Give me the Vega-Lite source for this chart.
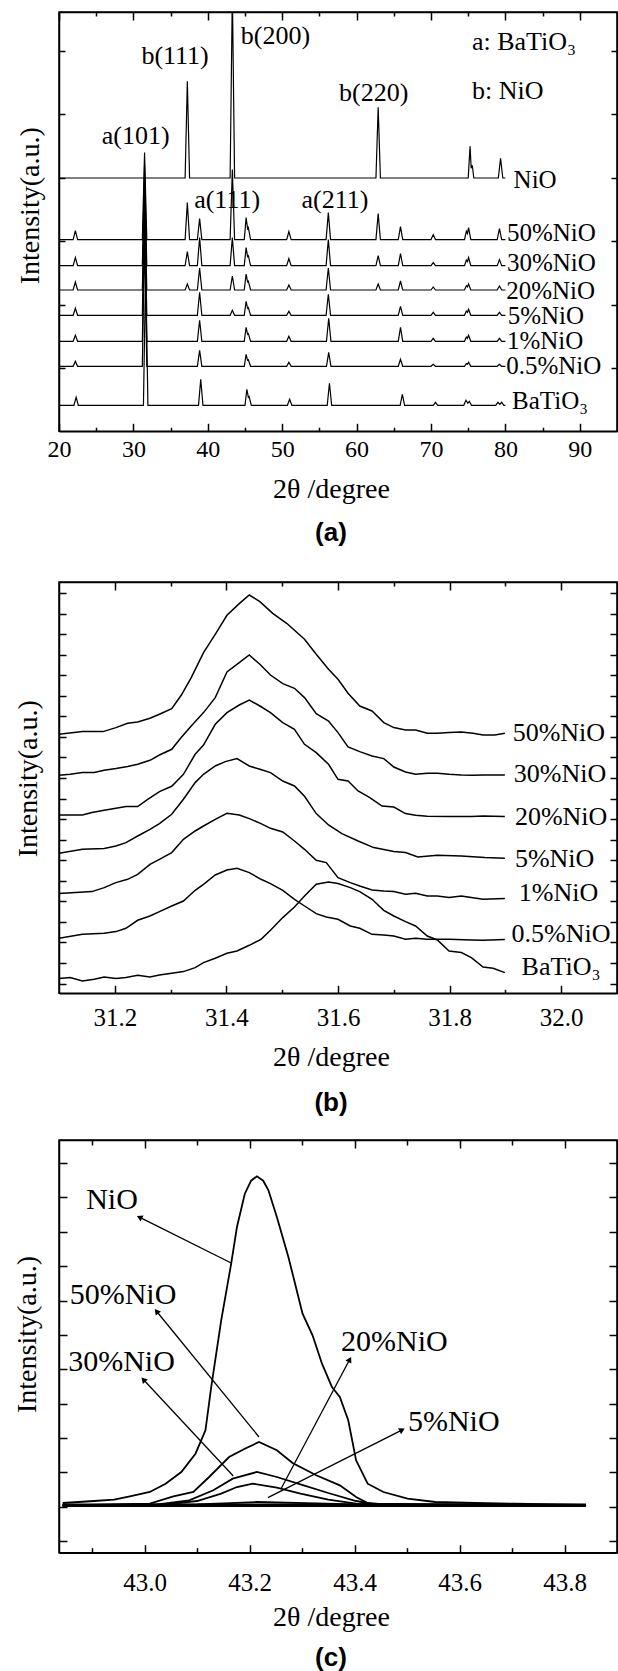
{
"$schema": "https://vega.github.io/schema/vega-lite/v6.json",
"padding": {"left": 12, "top": 10, "right": 0, "bottom": 0},
"background": "white",
"config": {
  "font": "Liberation Serif, Times New Roman, serif",
  "view": {"stroke": "black", "strokeWidth": 1.5},
  "axis": {"domainColor": "black", "domainWidth": 1.5, "tickColor": "black", "tickWidth": 1.5, "labelColor": "black", "titleColor": "black", "grid": false, "labelFont": "Liberation Serif, Times New Roman, serif", "titleFont": "Liberation Serif, Times New Roman, serif", "titleFontWeight": "normal", "labelFlush": false, "labelOverlap": false, "labelBound": false},
  "title": {"font": "Liberation Sans, Arial, sans-serif", "fontWeight": "bold", "fontSize": 26, "color": "black"}
},
"datasets": {
"a": [
{"s":"NiO","x":20,"y":253.3},{"s":"NiO","x":36.95,"y":253.3},{"s":"NiO","x":37.25,"y":350},{"s":"NiO","x":37.55,"y":253.3},{"s":"NiO","x":43.0,"y":253.3},{"s":"NiO","x":43.3,"y":440},{"s":"NiO","x":43.6,"y":253.3},{"s":"NiO","x":62.6,"y":253.3},{"s":"NiO","x":62.9,"y":324},{"s":"NiO","x":63.2,"y":253.3},{"s":"NiO","x":75.0,"y":253.3},{"s":"NiO","x":75.25,"y":285},{"s":"NiO","x":75.4,"y":263},{"s":"NiO","x":75.55,"y":266},{"s":"NiO","x":75.75,"y":253.3},{"s":"NiO","x":79.05,"y":253.3},{"s":"NiO","x":79.35,"y":273},{"s":"NiO","x":79.65,"y":253.3},{"s":"NiO","x":80,"y":253.3},
{"s":"50","x":20,"y":191.7},{"s":"50","x":21.9,"y":191.7},{"s":"50","x":22.2,"y":200.7},{"s":"50","x":22.5,"y":191.7},{"s":"50","x":31.2,"y":191.7},{"s":"50","x":31.5,"y":278.7},{"s":"50","x":31.8,"y":191.7},{"s":"50","x":36.95,"y":191.7},{"s":"50","x":37.25,"y":228.7},{"s":"50","x":37.55,"y":191.7},{"s":"50","x":38.6,"y":191.7},{"s":"50","x":38.9,"y":212.7},{"s":"50","x":39.2,"y":191.7},{"s":"50","x":43.0,"y":191.7},{"s":"50","x":43.3,"y":261.7},{"s":"50","x":43.6,"y":191.7},{"s":"50","x":44.9,"y":191.7},{"s":"50","x":45.15,"y":213.7},{"s":"50","x":45.35,"y":202.7},{"s":"50","x":45.45,"y":203.8},{"s":"50","x":45.75,"y":191.7},{"s":"50","x":50.6,"y":191.7},{"s":"50","x":50.9,"y":199.7},{"s":"50","x":51.2,"y":191.7},{"s":"50","x":55.9,"y":191.7},{"s":"50","x":56.2,"y":218.7},{"s":"50","x":56.5,"y":191.7},{"s":"50","x":62.6,"y":191.7},{"s":"50","x":62.9,"y":217.7},{"s":"50","x":63.2,"y":191.7},{"s":"50","x":65.6,"y":191.7},{"s":"50","x":65.9,"y":204.7},{"s":"50","x":66.2,"y":191.7},{"s":"50","x":70.0,"y":191.7},{"s":"50","x":70.3,"y":196.7},{"s":"50","x":70.6,"y":191.7},{"s":"50","x":74.5,"y":191.7},{"s":"50","x":74.75,"y":200},{"s":"50","x":74.9,"y":197.7},{"s":"50","x":75.05,"y":203.7},{"s":"50","x":75.35,"y":191.7},{"s":"50","x":78.9,"y":191.7},{"s":"50","x":79.2,"y":202.7},{"s":"50","x":79.5,"y":191.7},{"s":"50","x":80,"y":191.7},
{"s":"30","x":20,"y":165.7},{"s":"30","x":21.9,"y":165.7},{"s":"30","x":22.2,"y":173.7},{"s":"30","x":22.5,"y":165.7},{"s":"30","x":31.2,"y":165.7},{"s":"30","x":31.5,"y":265.7},{"s":"30","x":31.8,"y":165.7},{"s":"30","x":36.95,"y":165.7},{"s":"30","x":37.25,"y":179.7},{"s":"30","x":37.55,"y":165.7},{"s":"30","x":38.6,"y":165.7},{"s":"30","x":38.9,"y":193.7},{"s":"30","x":39.2,"y":165.7},{"s":"30","x":43.0,"y":165.7},{"s":"30","x":43.3,"y":193.7},{"s":"30","x":43.6,"y":165.7},{"s":"30","x":44.9,"y":165.7},{"s":"30","x":45.15,"y":183.7},{"s":"30","x":45.35,"y":174.7},{"s":"30","x":45.45,"y":175.6},{"s":"30","x":45.75,"y":165.7},{"s":"30","x":50.6,"y":165.7},{"s":"30","x":50.9,"y":172.7},{"s":"30","x":51.2,"y":165.7},{"s":"30","x":55.9,"y":165.7},{"s":"30","x":56.2,"y":191.7},{"s":"30","x":56.5,"y":165.7},{"s":"30","x":62.6,"y":165.7},{"s":"30","x":62.9,"y":175.7},{"s":"30","x":63.2,"y":165.7},{"s":"30","x":65.6,"y":165.7},{"s":"30","x":65.9,"y":177.7},{"s":"30","x":66.2,"y":165.7},{"s":"30","x":70.0,"y":165.7},{"s":"30","x":70.3,"y":168.7},{"s":"30","x":70.6,"y":165.7},{"s":"30","x":74.5,"y":165.7},{"s":"30","x":74.75,"y":171.3},{"s":"30","x":74.9,"y":169.7},{"s":"30","x":75.05,"y":173.7},{"s":"30","x":75.35,"y":165.7},{"s":"30","x":78.9,"y":165.7},{"s":"30","x":79.2,"y":171.7},{"s":"30","x":79.5,"y":165.7},{"s":"30","x":80,"y":165.7},
{"s":"20","x":20,"y":141.3},{"s":"20","x":21.9,"y":141.3},{"s":"20","x":22.2,"y":149.3},{"s":"20","x":22.5,"y":141.3},{"s":"20","x":31.2,"y":141.3},{"s":"20","x":31.5,"y":251.3},{"s":"20","x":31.8,"y":141.3},{"s":"20","x":36.95,"y":141.3},{"s":"20","x":37.25,"y":147.3},{"s":"20","x":37.55,"y":141.3},{"s":"20","x":38.6,"y":141.3},{"s":"20","x":38.9,"y":163.3},{"s":"20","x":39.2,"y":141.3},{"s":"20","x":43.0,"y":141.3},{"s":"20","x":43.3,"y":155.3},{"s":"20","x":43.6,"y":141.3},{"s":"20","x":44.9,"y":141.3},{"s":"20","x":45.15,"y":157.3},{"s":"20","x":45.35,"y":149.3},{"s":"20","x":45.45,"y":150.1},{"s":"20","x":45.75,"y":141.3},{"s":"20","x":50.6,"y":141.3},{"s":"20","x":50.9,"y":146.3},{"s":"20","x":51.2,"y":141.3},{"s":"20","x":55.9,"y":141.3},{"s":"20","x":56.2,"y":163.3},{"s":"20","x":56.5,"y":141.3},{"s":"20","x":62.6,"y":141.3},{"s":"20","x":62.9,"y":147.3},{"s":"20","x":63.2,"y":141.3},{"s":"20","x":65.6,"y":141.3},{"s":"20","x":65.9,"y":150.3},{"s":"20","x":66.2,"y":141.3},{"s":"20","x":70.0,"y":141.3},{"s":"20","x":70.3,"y":144.3},{"s":"20","x":70.6,"y":141.3},{"s":"20","x":74.5,"y":141.3},{"s":"20","x":74.75,"y":145.5},{"s":"20","x":74.9,"y":144.3},{"s":"20","x":75.05,"y":147.3},{"s":"20","x":75.35,"y":141.3},{"s":"20","x":78.9,"y":141.3},{"s":"20","x":79.2,"y":145.3},{"s":"20","x":79.5,"y":141.3},{"s":"20","x":80,"y":141.3},
{"s":"5","x":20,"y":116},{"s":"5","x":21.9,"y":116},{"s":"5","x":22.2,"y":123},{"s":"5","x":22.5,"y":116},{"s":"5","x":31.2,"y":116},{"s":"5","x":31.5,"y":236},{"s":"5","x":31.8,"y":116},{"s":"5","x":38.6,"y":116},{"s":"5","x":38.9,"y":139},{"s":"5","x":39.2,"y":116},{"s":"5","x":43.0,"y":116},{"s":"5","x":43.3,"y":121},{"s":"5","x":43.6,"y":116},{"s":"5","x":44.9,"y":116},{"s":"5","x":45.15,"y":130},{"s":"5","x":45.35,"y":123},{"s":"5","x":45.45,"y":123.7},{"s":"5","x":45.75,"y":116},{"s":"5","x":50.6,"y":116},{"s":"5","x":50.9,"y":120},{"s":"5","x":51.2,"y":116},{"s":"5","x":55.9,"y":116},{"s":"5","x":56.2,"y":137},{"s":"5","x":56.5,"y":116},{"s":"5","x":65.6,"y":116},{"s":"5","x":65.9,"y":125},{"s":"5","x":66.2,"y":116},{"s":"5","x":70.0,"y":116},{"s":"5","x":70.3,"y":119},{"s":"5","x":70.6,"y":116},{"s":"5","x":74.5,"y":116},{"s":"5","x":74.75,"y":120.2},{"s":"5","x":74.9,"y":119},{"s":"5","x":75.05,"y":122},{"s":"5","x":75.35,"y":116},{"s":"5","x":78.9,"y":116},{"s":"5","x":79.2,"y":119},{"s":"5","x":79.5,"y":116},{"s":"5","x":80,"y":116},
{"s":"1","x":20,"y":90},{"s":"1","x":21.9,"y":90},{"s":"1","x":22.2,"y":96},{"s":"1","x":22.5,"y":90},{"s":"1","x":31.2,"y":90},{"s":"1","x":31.5,"y":210},{"s":"1","x":31.8,"y":90},{"s":"1","x":38.6,"y":90},{"s":"1","x":38.9,"y":111},{"s":"1","x":39.2,"y":90},{"s":"1","x":44.9,"y":90},{"s":"1","x":45.15,"y":104},{"s":"1","x":45.35,"y":97},{"s":"1","x":45.45,"y":97.7},{"s":"1","x":45.75,"y":90},{"s":"1","x":50.6,"y":90},{"s":"1","x":50.9,"y":95},{"s":"1","x":51.2,"y":90},{"s":"1","x":55.95,"y":90},{"s":"1","x":56.25,"y":113},{"s":"1","x":56.55,"y":90},{"s":"1","x":65.6,"y":90},{"s":"1","x":65.9,"y":104},{"s":"1","x":66.2,"y":90},{"s":"1","x":70.0,"y":90},{"s":"1","x":70.3,"y":93},{"s":"1","x":70.6,"y":90},{"s":"1","x":74.5,"y":90},{"s":"1","x":74.75,"y":94.2},{"s":"1","x":74.9,"y":93},{"s":"1","x":75.05,"y":96},{"s":"1","x":75.35,"y":90},{"s":"1","x":78.9,"y":90},{"s":"1","x":79.2,"y":93},{"s":"1","x":79.5,"y":90},{"s":"1","x":80,"y":90},
{"s":"0.5","x":20,"y":65},{"s":"0.5","x":21.9,"y":65},{"s":"0.5","x":22.2,"y":70},{"s":"0.5","x":22.5,"y":65},{"s":"0.5","x":31.2,"y":65},{"s":"0.5","x":31.5,"y":195},{"s":"0.5","x":31.8,"y":65},{"s":"0.5","x":38.6,"y":65},{"s":"0.5","x":38.9,"y":81},{"s":"0.5","x":39.2,"y":65},{"s":"0.5","x":44.9,"y":65},{"s":"0.5","x":45.15,"y":77},{"s":"0.5","x":45.35,"y":71},{"s":"0.5","x":45.45,"y":71.6},{"s":"0.5","x":45.75,"y":65},{"s":"0.5","x":50.6,"y":65},{"s":"0.5","x":50.9,"y":69},{"s":"0.5","x":51.2,"y":65},{"s":"0.5","x":55.95,"y":65},{"s":"0.5","x":56.25,"y":79},{"s":"0.5","x":56.55,"y":65},{"s":"0.5","x":65.6,"y":65},{"s":"0.5","x":65.9,"y":72},{"s":"0.5","x":66.2,"y":65},{"s":"0.5","x":70.0,"y":65},{"s":"0.5","x":70.3,"y":67},{"s":"0.5","x":70.6,"y":65},{"s":"0.5","x":74.5,"y":65},{"s":"0.5","x":74.75,"y":67.8},{"s":"0.5","x":74.9,"y":67},{"s":"0.5","x":75.05,"y":69},{"s":"0.5","x":75.35,"y":65},{"s":"0.5","x":78.9,"y":65},{"s":"0.5","x":79.2,"y":67},{"s":"0.5","x":79.5,"y":65},{"s":"0.5","x":80,"y":65},
{"s":"B","x":20,"y":26},{"s":"B","x":22.0,"y":26},{"s":"B","x":22.3,"y":34},{"s":"B","x":22.6,"y":26},{"s":"B","x":31.35,"y":26},{"s":"B","x":31.65,"y":166},{"s":"B","x":31.95,"y":26},{"s":"B","x":38.75,"y":26},{"s":"B","x":39.05,"y":52},{"s":"B","x":39.35,"y":26},{"s":"B","x":45.0,"y":26},{"s":"B","x":45.25,"y":42},{"s":"B","x":45.45,"y":34},{"s":"B","x":45.55,"y":34.8},{"s":"B","x":45.85,"y":26},{"s":"B","x":50.7,"y":26},{"s":"B","x":51.0,"y":32},{"s":"B","x":51.3,"y":26},{"s":"B","x":56.05,"y":26},{"s":"B","x":56.35,"y":48},{"s":"B","x":56.65,"y":26},{"s":"B","x":65.85,"y":26},{"s":"B","x":66.15,"y":37},{"s":"B","x":66.45,"y":26},{"s":"B","x":70.3,"y":26},{"s":"B","x":70.6,"y":29},{"s":"B","x":70.9,"y":26},{"s":"B","x":74.4,"y":26},{"s":"B","x":74.7,"y":31},{"s":"B","x":74.95,"y":28},{"s":"B","x":75.15,"y":30},{"s":"B","x":75.45,"y":26},{"s":"B","x":78.7,"y":26},{"s":"B","x":79.0,"y":29},{"s":"B","x":79.25,"y":27},{"s":"B","x":79.5,"y":29},{"s":"B","x":79.8,"y":26},{"s":"B","x":80,"y":26}
],
"aser": [
{"t":"NiO","x":81.1,"y":251},{"t":"50%NiO","x":80.2,"y":198},{"t":"30%NiO","x":80.2,"y":168.3},{"t":"20%NiO","x":80.1,"y":140.5},{"t":"5%NiO","x":80.3,"y":115.5},{"t":"1%NiO","x":80.2,"y":90.5},{"t":"0.5%NiO","x":80.1,"y":65.5},{"t":"BaTiO₃","x":80.9,"y":30}
],
"aleg": [
{"t":"a: BaTiO₃","x":75.5,"y":389},{"t":"b: NiO","x":75.5,"y":340}
],
"apk": [
{"t":"a(101)","x":30.3,"y":295},{"t":"b(111)","x":35.6,"y":375},{"t":"b(200)","x":49.1,"y":395},{"t":"b(220)","x":62.3,"y":338.3},{"t":"a(111)","x":42.6,"y":231.7},{"t":"a(211)","x":57.1,"y":231.7}
],
"b1": [
{"s":"50","x":31.100,"y":259},{"s":"50","x":31.142,"y":261.7},{"s":"50","x":31.179,"y":261.7},{"s":"50","x":31.202,"y":265.7},{"s":"50","x":31.223,"y":270},{"s":"50","x":31.241,"y":271.3},{"s":"50","x":31.263,"y":275},{"s":"50","x":31.280,"y":279},{"s":"50","x":31.302,"y":284.7},{"s":"50","x":31.319,"y":298},{"s":"50","x":31.337,"y":315.7},{"s":"50","x":31.359,"y":340.7},{"s":"50","x":31.380,"y":359},{"s":"50","x":31.401,"y":378},{"s":"50","x":31.423,"y":389.7},{"s":"50","x":31.441,"y":398.3},{"s":"50","x":31.460,"y":391.7},{"s":"50","x":31.483,"y":380},{"s":"50","x":31.508,"y":370},{"s":"50","x":31.540,"y":354},{"s":"50","x":31.561,"y":339},{"s":"50","x":31.583,"y":324},{"s":"50","x":31.600,"y":314},{"s":"50","x":31.618,"y":300},{"s":"50","x":31.639,"y":287.3},{"s":"50","x":31.661,"y":282.3},{"s":"50","x":31.682,"y":270.7},{"s":"50","x":31.700,"y":265.7},{"s":"50","x":31.721,"y":263.3},{"s":"50","x":31.739,"y":263.3},{"s":"50","x":31.760,"y":260},{"s":"50","x":31.778,"y":260},{"s":"50","x":31.799,"y":260.7},{"s":"50","x":31.821,"y":261.3},{"s":"50","x":31.842,"y":260},{"s":"50","x":31.860,"y":258.3},{"s":"50","x":31.881,"y":258.3},{"s":"50","x":31.899,"y":260},
{"s":"30","x":31.100,"y":218},{"s":"30","x":31.120,"y":219},{"s":"30","x":31.142,"y":220.7},{"s":"30","x":31.163,"y":220.7},{"s":"30","x":31.181,"y":223},{"s":"30","x":31.202,"y":224.7},{"s":"30","x":31.223,"y":226.7},{"s":"30","x":31.241,"y":229},{"s":"30","x":31.263,"y":233},{"s":"30","x":31.280,"y":238.3},{"s":"30","x":31.302,"y":244},{"s":"30","x":31.319,"y":255.7},{"s":"30","x":31.337,"y":267.3},{"s":"30","x":31.359,"y":280.7},{"s":"30","x":31.380,"y":295.7},{"s":"30","x":31.401,"y":321.3},{"s":"30","x":31.423,"y":330.7},{"s":"30","x":31.441,"y":338.3},{"s":"30","x":31.460,"y":329},{"s":"30","x":31.479,"y":318.3},{"s":"30","x":31.501,"y":309.7},{"s":"30","x":31.522,"y":305},{"s":"30","x":31.540,"y":295.7},{"s":"30","x":31.561,"y":279.7},{"s":"30","x":31.583,"y":272.3},{"s":"30","x":31.600,"y":260.7},{"s":"30","x":31.618,"y":246.3},{"s":"30","x":31.639,"y":241.7},{"s":"30","x":31.661,"y":237.3},{"s":"30","x":31.682,"y":234.7},{"s":"30","x":31.700,"y":226.3},{"s":"30","x":31.721,"y":221.3},{"s":"30","x":31.739,"y":219},{"s":"30","x":31.760,"y":220},{"s":"30","x":31.778,"y":220},{"s":"30","x":31.799,"y":219},{"s":"30","x":31.821,"y":218.3},{"s":"30","x":31.842,"y":218},{"s":"30","x":31.860,"y":218.3},{"s":"30","x":31.899,"y":218.3},
{"s":"20","x":31.100,"y":178.3},{"s":"20","x":31.142,"y":178.3},{"s":"20","x":31.159,"y":180.7},{"s":"20","x":31.181,"y":183},{"s":"20","x":31.202,"y":185},{"s":"20","x":31.220,"y":186.7},{"s":"20","x":31.241,"y":186.7},{"s":"20","x":31.259,"y":194},{"s":"20","x":31.280,"y":201.7},{"s":"20","x":31.302,"y":207},{"s":"20","x":31.323,"y":219},{"s":"20","x":31.344,"y":239},{"s":"20","x":31.359,"y":248.3},{"s":"20","x":31.380,"y":269},{"s":"20","x":31.401,"y":280.7},{"s":"20","x":31.423,"y":288.3},{"s":"20","x":31.441,"y":293.3},{"s":"20","x":31.460,"y":287.3},{"s":"20","x":31.479,"y":280.7},{"s":"20","x":31.501,"y":270.7},{"s":"20","x":31.522,"y":264},{"s":"20","x":31.540,"y":249},{"s":"20","x":31.561,"y":240.7},{"s":"20","x":31.583,"y":229},{"s":"20","x":31.600,"y":214},{"s":"20","x":31.618,"y":212.3},{"s":"20","x":31.636,"y":202.3},{"s":"20","x":31.657,"y":195.7},{"s":"20","x":31.679,"y":187.3},{"s":"20","x":31.700,"y":186.3},{"s":"20","x":31.721,"y":179.7},{"s":"20","x":31.739,"y":178},{"s":"20","x":31.760,"y":177},{"s":"20","x":31.799,"y":176.7},{"s":"20","x":31.839,"y":176.7},{"s":"20","x":31.860,"y":177.3},{"s":"20","x":31.899,"y":176.7},
{"s":"5","x":31.100,"y":140},{"s":"5","x":31.142,"y":144},{"s":"5","x":31.181,"y":144.7},{"s":"5","x":31.202,"y":147.3},{"s":"5","x":31.220,"y":150.7},{"s":"5","x":31.241,"y":157.3},{"s":"5","x":31.263,"y":164},{"s":"5","x":31.280,"y":169.7},{"s":"5","x":31.302,"y":179},{"s":"5","x":31.323,"y":194},{"s":"5","x":31.344,"y":210.7},{"s":"5","x":31.359,"y":219},{"s":"5","x":31.380,"y":227.3},{"s":"5","x":31.398,"y":231.7},{"s":"5","x":31.419,"y":234.7},{"s":"5","x":31.441,"y":227.3},{"s":"5","x":31.460,"y":224},{"s":"5","x":31.479,"y":220.7},{"s":"5","x":31.501,"y":212.3},{"s":"5","x":31.522,"y":207.3},{"s":"5","x":31.540,"y":197},{"s":"5","x":31.561,"y":179.7},{"s":"5","x":31.583,"y":168.3},{"s":"5","x":31.607,"y":159.7},{"s":"5","x":31.636,"y":152.3},{"s":"5","x":31.664,"y":145.7},{"s":"5","x":31.700,"y":141.7},{"s":"5","x":31.721,"y":140.7},{"s":"5","x":31.743,"y":136.3},{"s":"5","x":31.778,"y":138},{"s":"5","x":31.821,"y":137.3},{"s":"5","x":31.863,"y":135.7},{"s":"5","x":31.899,"y":135}
],
"b2": [
{"s":"1","x":31.100,"y":99.7},{"s":"1","x":31.159,"y":101.7},{"s":"1","x":31.181,"y":105.7},{"s":"1","x":31.202,"y":110.7},{"s":"1","x":31.223,"y":114},{"s":"1","x":31.241,"y":119},{"s":"1","x":31.263,"y":129},{"s":"1","x":31.280,"y":134},{"s":"1","x":31.302,"y":140.7},{"s":"1","x":31.323,"y":154},{"s":"1","x":31.344,"y":162.3},{"s":"1","x":31.359,"y":167.3},{"s":"1","x":31.380,"y":174},{"s":"1","x":31.401,"y":180},{"s":"1","x":31.423,"y":178.3},{"s":"1","x":31.441,"y":174.7},{"s":"1","x":31.462,"y":169.7},{"s":"1","x":31.479,"y":165},{"s":"1","x":31.501,"y":161.3},{"s":"1","x":31.522,"y":152.3},{"s":"1","x":31.540,"y":144},{"s":"1","x":31.561,"y":133},{"s":"1","x":31.579,"y":130.7},{"s":"1","x":31.600,"y":115.7},{"s":"1","x":31.622,"y":110.7},{"s":"1","x":31.639,"y":107.3},{"s":"1","x":31.661,"y":103.3},{"s":"1","x":31.682,"y":102.3},{"s":"1","x":31.700,"y":101.7},{"s":"1","x":31.721,"y":99},{"s":"1","x":31.739,"y":100},{"s":"1","x":31.760,"y":97.3},{"s":"1","x":31.778,"y":97.3},{"s":"1","x":31.799,"y":95.7},{"s":"1","x":31.821,"y":97.3},{"s":"1","x":31.839,"y":95.7},{"s":"1","x":31.860,"y":94},{"s":"1","x":31.899,"y":94.7},
{"s":"0.5","x":31.100,"y":55},{"s":"0.5","x":31.142,"y":59},{"s":"0.5","x":31.181,"y":60},{"s":"0.5","x":31.202,"y":61.7},{"s":"0.5","x":31.220,"y":65},{"s":"0.5","x":31.241,"y":73},{"s":"0.5","x":31.263,"y":77.3},{"s":"0.5","x":31.280,"y":81.7},{"s":"0.5","x":31.302,"y":87.3},{"s":"0.5","x":31.323,"y":92.3},{"s":"0.5","x":31.344,"y":103},{"s":"0.5","x":31.359,"y":109},{"s":"0.5","x":31.380,"y":118.3},{"s":"0.5","x":31.401,"y":123.3},{"s":"0.5","x":31.419,"y":125},{"s":"0.5","x":31.441,"y":120.7},{"s":"0.5","x":31.462,"y":114},{"s":"0.5","x":31.479,"y":109.7},{"s":"0.5","x":31.501,"y":103},{"s":"0.5","x":31.522,"y":94},{"s":"0.5","x":31.540,"y":87.3},{"s":"0.5","x":31.561,"y":79.7},{"s":"0.5","x":31.579,"y":76.3},{"s":"0.5","x":31.600,"y":74},{"s":"0.5","x":31.622,"y":67.3},{"s":"0.5","x":31.639,"y":65},{"s":"0.5","x":31.661,"y":59},{"s":"0.5","x":31.682,"y":58.3},{"s":"0.5","x":31.700,"y":57.3},{"s":"0.5","x":31.721,"y":54},{"s":"0.5","x":31.739,"y":55},{"s":"0.5","x":31.760,"y":54},{"s":"0.5","x":31.799,"y":54},{"s":"0.5","x":31.839,"y":53.3},{"s":"0.5","x":31.860,"y":53},{"s":"0.5","x":31.899,"y":53.7},
{"s":"B","x":31.100,"y":14.7},{"s":"B","x":31.120,"y":15.7},{"s":"B","x":31.142,"y":12.3},{"s":"B","x":31.163,"y":14},{"s":"B","x":31.181,"y":16.3},{"s":"B","x":31.202,"y":14.7},{"s":"B","x":31.220,"y":15.7},{"s":"B","x":31.241,"y":18},{"s":"B","x":31.263,"y":16.3},{"s":"B","x":31.280,"y":18.3},{"s":"B","x":31.302,"y":20},{"s":"B","x":31.323,"y":21.7},{"s":"B","x":31.344,"y":25.7},{"s":"B","x":31.359,"y":30.7},{"s":"B","x":31.380,"y":35},{"s":"B","x":31.401,"y":40},{"s":"B","x":31.419,"y":42.3},{"s":"B","x":31.441,"y":48},{"s":"B","x":31.462,"y":54},{"s":"B","x":31.479,"y":63},{"s":"B","x":31.501,"y":75.7},{"s":"B","x":31.522,"y":86.3},{"s":"B","x":31.540,"y":97.3},{"s":"B","x":31.561,"y":109},{"s":"B","x":31.583,"y":111.3},{"s":"B","x":31.600,"y":109.7},{"s":"B","x":31.622,"y":105.7},{"s":"B","x":31.639,"y":101.7},{"s":"B","x":31.661,"y":94},{"s":"B","x":31.682,"y":83},{"s":"B","x":31.700,"y":77.3},{"s":"B","x":31.721,"y":71.7},{"s":"B","x":31.739,"y":67.3},{"s":"B","x":31.760,"y":57.3},{"s":"B","x":31.778,"y":53.3},{"s":"B","x":31.799,"y":42.3},{"s":"B","x":31.821,"y":40.7},{"s":"B","x":31.839,"y":35.7},{"s":"B","x":31.860,"y":26.3},{"s":"B","x":31.878,"y":25},{"s":"B","x":31.899,"y":20.7}
],
"blab1": [
{"t":"50%NiO","x":31.913,"y":260.7},{"t":"30%NiO","x":31.915,"y":219},{"t":"20%NiO","x":31.917,"y":176.7},{"t":"5%NiO","x":31.917,"y":134}
],
"blab2": [
{"t":"1%NiO","x":31.924,"y":100.7},{"t":"0.5%NiO","x":31.911,"y":59},{"t":"BaTiO₃","x":31.929,"y":26}
],
"c": [
{"s":"NiO","x":42.844,"y":49.7},{"s":"NiO","x":42.904,"y":51.7},{"s":"NiO","x":42.942,"y":53},{"s":"NiO","x":42.972,"y":56.4},{"s":"NiO","x":43.010,"y":60.7},{"s":"NiO","x":43.040,"y":69},{"s":"NiO","x":43.070,"y":80.7},{"s":"NiO","x":43.097,"y":99},{"s":"NiO","x":43.116,"y":122.4},{"s":"NiO","x":43.127,"y":165.7},{"s":"NiO","x":43.146,"y":232.4},{"s":"NiO","x":43.165,"y":289},{"s":"NiO","x":43.176,"y":325.7},{"s":"NiO","x":43.191,"y":359},{"s":"NiO","x":43.203,"y":372},{"s":"NiO","x":43.214,"y":376.4},{"s":"NiO","x":43.226,"y":372},{"s":"NiO","x":43.236,"y":362.4},{"s":"NiO","x":43.252,"y":335.7},{"s":"NiO","x":43.274,"y":295.7},{"s":"NiO","x":43.301,"y":239},{"s":"NiO","x":43.320,"y":217.4},{"s":"NiO","x":43.338,"y":189},{"s":"NiO","x":43.357,"y":165.7},{"s":"NiO","x":43.372,"y":155.7},{"s":"NiO","x":43.388,"y":132.4},{"s":"NiO","x":43.403,"y":92.4},{"s":"NiO","x":43.425,"y":69},{"s":"NiO","x":43.455,"y":60.7},{"s":"NiO","x":43.501,"y":54},{"s":"NiO","x":43.554,"y":50.7},{"s":"NiO","x":43.629,"y":49.7},{"s":"NiO","x":43.705,"y":49},{"s":"NiO","x":43.841,"y":47.7},
{"s":"50","x":42.844,"y":47.4},{"s":"50","x":43.010,"y":49},{"s":"50","x":43.055,"y":56.4},{"s":"50","x":43.093,"y":60.7},{"s":"50","x":43.123,"y":75.7},{"s":"50","x":43.161,"y":95.7},{"s":"50","x":43.191,"y":104},{"s":"50","x":43.218,"y":110.7},{"s":"50","x":43.252,"y":102.4},{"s":"50","x":43.282,"y":89.7},{"s":"50","x":43.327,"y":77.4},{"s":"50","x":43.372,"y":67.4},{"s":"50","x":43.403,"y":55.7},{"s":"50","x":43.425,"y":49.7},{"s":"50","x":43.478,"y":47.4},{"s":"50","x":43.841,"y":47.4},
{"s":"30","x":42.844,"y":47.4},{"s":"30","x":43.025,"y":48.4},{"s":"30","x":43.085,"y":52.4},{"s":"30","x":43.131,"y":62.4},{"s":"30","x":43.168,"y":74},{"s":"30","x":43.214,"y":80.7},{"s":"30","x":43.252,"y":75.7},{"s":"30","x":43.297,"y":68.4},{"s":"30","x":43.350,"y":59.7},{"s":"30","x":43.403,"y":51.7},{"s":"30","x":43.440,"y":48},{"s":"30","x":43.841,"y":47.4},
{"s":"20","x":42.844,"y":47.4},{"s":"20","x":43.040,"y":48.4},{"s":"20","x":43.100,"y":51.7},{"s":"20","x":43.146,"y":59},{"s":"20","x":43.176,"y":65.7},{"s":"20","x":43.206,"y":69},{"s":"20","x":43.252,"y":65},{"s":"20","x":43.297,"y":59},{"s":"20","x":43.350,"y":53},{"s":"20","x":43.403,"y":49},{"s":"20","x":43.841,"y":47.4},
{"s":"5","x":42.844,"y":47.4},{"s":"5","x":43.100,"y":48.4},{"s":"5","x":43.214,"y":50.7},{"s":"5","x":43.327,"y":49.4},{"s":"5","x":43.478,"y":47.4},{"s":"5","x":43.841,"y":47.4},
{"s":"1","x":42.844,"y":48.4},{"s":"1","x":43.841,"y":48.4},
{"s":"0.5","x":42.844,"y":47.3},{"s":"0.5","x":43.841,"y":47.3},
{"s":"B","x":42.844,"y":46.5},{"s":"B","x":43.841,"y":46.5}
],
"clab": [
{"t":"NiO","x":42.938,"y":352.7},{"t":"50%NiO","x":42.959,"y":257.4},{"t":"30%NiO","x":42.956,"y":190.7},{"t":"20%NiO","x":43.476,"y":210.7},{"t":"5%NiO","x":43.589,"y":130.7}
],
"carr": [
{"x":43.165,"y":289.7,"x2":42.992,"y2":335,"ang":296.6},
{"x":43.218,"y":115.7,"x2":43.024,"y2":240.7,"ang":321},
{"x":43.169,"y":76.7,"x2":42.999,"y2":172.4,"ang":317},
{"x":43.260,"y":64,"x2":43.390,"y2":192.4,"ang":28},
{"x":43.235,"y":55,"x2":43.489,"y2":122.4,"ang":63}
]
},
"spacing": 32,
"vconcat": [
{
  "width": 558, "height": 419.3,
  "title": {"text": "(a)", "orient": "bottom", "frame": "group", "offset": 17, "dx": -7},
  "resolve": {"axis": {"x": "independent", "y": "independent"}},
  "layer": [
    {
      "data": {"name": "a"},
      "mark": {"type": "line", "color": "black", "strokeWidth": 1.2, "clip": true},
      "encoding": {
        "x": {"field": "x", "type": "quantitative", "scale": {"domain": [20, 95], "nice": false, "zero": false},
          "axis": {"orient": "bottom", "values": [20,30,40,50,60,70,80,90], "tickSize": -8, "labelFontSize": 24, "labelBaseline": "middle", "labelPadding": 26, "title": "2θ /degree", "titleFontSize": 28, "titleX": 272, "titleY": 58, "titleBaseline": "middle", "titleAlign": "center"}},
        "y": {"field": "y", "type": "quantitative", "scale": {"domain": [0, 419.3], "nice": false, "zero": false},
          "axis": {"orient": "left", "values": [63.4,126.8,190.2,253.6,317,380.4], "labels": false, "tickSize": -6, "title": "Intensity(a.u.)", "titleFontSize": 28, "titleX": -28.4, "titleY": 193.3, "titleAngle": 270, "titleBaseline": "middle", "titleAlign": "center"}},
        "detail": {"field": "s"}
      }
    },
    {
      "data": {"name": "aser"},
      "mark": {"type": "text", "align": "left", "baseline": "middle", "font": "Liberation Serif, Times New Roman, serif", "fontSize": 25, "color": "black"},
      "encoding": {
        "x": {"field": "x", "type": "quantitative", "scale": {"domain": [20, 95], "nice": false, "zero": false},
          "axis": {"orient": "top", "values": [20,30,40,50,60,70,80,90], "labels": false, "tickSize": -8, "title": null}},
        "y": {"field": "y", "type": "quantitative", "scale": {"domain": [0, 419.3], "nice": false, "zero": false},
          "axis": {"orient": "right", "values": [63.4,126.8,190.2,253.6,317,380.4], "labels": false, "tickSize": -6, "title": null}},
        "text": {"field": "t"}
      }
    },
    {
      "data": {"name": "apk"},
      "mark": {"type": "text", "align": "center", "baseline": "middle", "font": "Liberation Serif, Times New Roman, serif", "fontSize": 26, "color": "black"},
      "encoding": {
        "x": {"field": "x", "type": "quantitative", "scale": {"domain": [20, 95], "nice": false, "zero": false},
          "axis": {"orient": "bottom", "values": [25,35,45,55,65,75,85], "labels": false, "domain": false, "tickSize": -4, "title": null}},
        "y": {"field": "y", "type": "quantitative", "scale": {"domain": [0, 419.3], "nice": false, "zero": false}, "axis": null},
        "text": {"field": "t"}
      }
    },
    {
      "data": {"name": "aleg"},
      "mark": {"type": "text", "align": "left", "baseline": "middle", "font": "Liberation Serif, Times New Roman, serif", "fontSize": 26, "color": "black"},
      "encoding": {
        "x": {"field": "x", "type": "quantitative", "scale": {"domain": [20, 95], "nice": false, "zero": false},
          "axis": {"orient": "top", "values": [25,35,45,55,65,75,85], "labels": false, "domain": false, "tickSize": -4, "title": null}},
        "y": {"field": "y", "type": "quantitative", "scale": {"domain": [0, 419.3], "nice": false, "zero": false}, "axis": null},
        "text": {"field": "t"}
      }
    }
  ]
},
{
  "spacing": 20,
  "vconcat": [
    {
      "width": 558, "height": 411.3,
      "title": {"text": "(b)", "orient": "bottom", "frame": "group", "offset": 19, "dx": -7},
      "resolve": {"axis": {"x": "independent", "y": "independent"}},
      "layer": [
        {
          "data": {"name": "b1"},
          "mark": {"type": "line", "color": "black", "strokeWidth": 1.5, "clip": true},
          "encoding": {
            "x": {"field": "x", "type": "quantitative", "scale": {"domain": [31.1, 32.1], "nice": false, "zero": false},
              "axis": {"orient": "bottom", "values": [31.2,31.4,31.6,31.8,32.0], "format": ".1f", "tickSize": -8, "labelFontSize": 25, "labelBaseline": "middle", "labelPadding": 32, "title": "2θ /degree", "titleFontSize": 28, "titleX": 272, "titleY": 64, "titleBaseline": "middle", "titleAlign": "center"}},
            "y": {"field": "y", "type": "quantitative", "scale": {"domain": [0, 411.3], "nice": false, "zero": false},
              "axis": {"orient": "left", "values": [9.8,30.35,50.9,71.45,92,112.55,133.1,153.65,174.2,194.75,215.3,235.85,256.4,276.95,297.5,318.05,338.6,359.15,379.7,400.25], "labels": false, "tickSize": -7, "title": "Intensity(a.u.)", "titleFontSize": 28, "titleX": -30.4, "titleY": 196.3, "titleAngle": 270, "titleBaseline": "middle", "titleAlign": "center"}},
            "detail": {"field": "s"}
          }
        },
        {
          "data": {"name": "b2"},
          "mark": {"type": "line", "color": "black", "strokeWidth": 1.5, "clip": true},
          "encoding": {
            "x": {"field": "x", "type": "quantitative", "scale": {"domain": [31.1, 32.1], "nice": false, "zero": false},
              "axis": {"orient": "bottom", "values": [31.3,31.5,31.7,31.9], "labels": false, "domain": false, "tickSize": -4, "title": null}},
            "y": {"field": "y", "type": "quantitative", "scale": {"domain": [0, 411.3], "nice": false, "zero": false},
              "axis": {"orient": "right", "values": [9.8,30.35,50.9,71.45,92,112.55,133.1,153.65,174.2,194.75,215.3,235.85,256.4,276.95,297.5,318.05,338.6,359.15,379.7,400.25], "labels": false, "tickSize": -7, "title": null}},
            "detail": {"field": "s"}
          }
        },
        {
          "data": {"name": "blab1"},
          "mark": {"type": "text", "align": "left", "baseline": "middle", "font": "Liberation Serif, Times New Roman, serif", "fontSize": 26, "color": "black"},
          "encoding": {
            "x": {"field": "x", "type": "quantitative", "scale": {"domain": [31.1, 32.1], "nice": false, "zero": false},
              "axis": {"orient": "top", "values": [31.2,31.4,31.6,31.8,32.0], "labels": false, "tickSize": -8, "title": null}},
            "y": {"field": "y", "type": "quantitative", "scale": {"domain": [0, 411.3], "nice": false, "zero": false}, "axis": null},
            "text": {"field": "t"}
          }
        },
        {
          "data": {"name": "blab2"},
          "mark": {"type": "text", "align": "left", "baseline": "middle", "font": "Liberation Serif, Times New Roman, serif", "fontSize": 26, "color": "black"},
          "encoding": {
            "x": {"field": "x", "type": "quantitative", "scale": {"domain": [31.1, 32.1], "nice": false, "zero": false},
              "axis": {"orient": "top", "values": [31.3,31.5,31.7,31.9], "labels": false, "domain": false, "tickSize": -4, "title": null}},
            "y": {"field": "y", "type": "quantitative", "scale": {"domain": [0, 411.3], "nice": false, "zero": false}, "axis": null},
            "text": {"field": "t"}
          }
        }
      ]
    },
    {
      "width": 558, "height": 412.7,
      "title": {"text": "(c)", "orient": "bottom", "frame": "group", "offset": 14, "dx": -7},
      "resolve": {"axis": {"x": "independent", "y": "independent"}},
      "layer": [
        {
          "data": {"name": "c"},
          "mark": {"type": "line", "color": "black", "strokeWidth": 1.8, "clip": true},
          "encoding": {
            "x": {"field": "x", "type": "quantitative", "scale": {"domain": [42.837, 43.9], "nice": false, "zero": false},
              "axis": {"orient": "bottom", "values": [43.0,43.2,43.4,43.6,43.8], "format": ".1f", "tickSize": -8, "labelFontSize": 25, "labelBaseline": "middle", "labelPadding": 37.3, "title": "2θ /degree", "titleFontSize": 28, "titleX": 272, "titleY": 64.3, "titleBaseline": "middle", "titleAlign": "center"}},
            "y": {"field": "y", "type": "quantitative", "scale": {"domain": [0, 412.7], "nice": false, "zero": false},
              "axis": {"orient": "left", "values": [11.4,45.8,80.2,114.6,149,183.4,217.8,252.2,286.6,321,355.4,389.8], "labels": false, "tickSize": -8, "title": "Intensity(a.u.)", "titleFontSize": 28, "titleX": -32, "titleY": 194, "titleAngle": 270, "titleBaseline": "middle", "titleAlign": "center"}},
            "detail": {"field": "s"}
          }
        },
        {
          "data": {"name": "carr"},
          "mark": {"type": "rule", "color": "black", "strokeWidth": 1.3},
          "encoding": {
            "x": {"field": "x", "type": "quantitative", "scale": {"domain": [42.837, 43.9], "nice": false, "zero": false},
              "axis": {"orient": "top", "values": [43.0,43.2,43.4,43.6,43.8], "labels": false, "tickSize": -8, "title": null}},
            "y": {"field": "y", "type": "quantitative", "scale": {"domain": [0, 412.7], "nice": false, "zero": false},
              "axis": {"orient": "right", "values": [11.4,45.8,80.2,114.6,149,183.4,217.8,252.2,286.6,321,355.4,389.8], "labels": false, "tickSize": -8, "title": null}},
            "x2": {"field": "x2"},
            "y2": {"field": "y2"}
          }
        },
        {
          "data": {"name": "carr"},
          "mark": {"type": "point", "shape": "triangle", "filled": true, "color": "black", "size": 45, "opacity": 1},
          "encoding": {
            "x": {"field": "x2", "type": "quantitative", "scale": {"domain": [42.837, 43.9], "nice": false, "zero": false},
              "axis": {"orient": "bottom", "values": [42.9,43.1,43.3,43.5,43.7], "labels": false, "domain": false, "tickSize": -5, "title": null}},
            "y": {"field": "y2", "type": "quantitative", "scale": {"domain": [0, 412.7], "nice": false, "zero": false}, "axis": null},
            "angle": {"field": "ang", "type": "quantitative", "scale": null}
          }
        },
        {
          "data": {"name": "clab"},
          "mark": {"type": "text", "align": "center", "baseline": "middle", "font": "Liberation Serif, Times New Roman, serif", "fontSize": 30, "color": "black"},
          "encoding": {
            "x": {"field": "x", "type": "quantitative", "scale": {"domain": [42.837, 43.9], "nice": false, "zero": false},
              "axis": {"orient": "top", "values": [42.9,43.1,43.3,43.5,43.7], "labels": false, "domain": false, "tickSize": -5, "title": null}},
            "y": {"field": "y", "type": "quantitative", "scale": {"domain": [0, 412.7], "nice": false, "zero": false}, "axis": null},
            "text": {"field": "t"}
          }
        }
      ]
    }
  ]
}
]
}
